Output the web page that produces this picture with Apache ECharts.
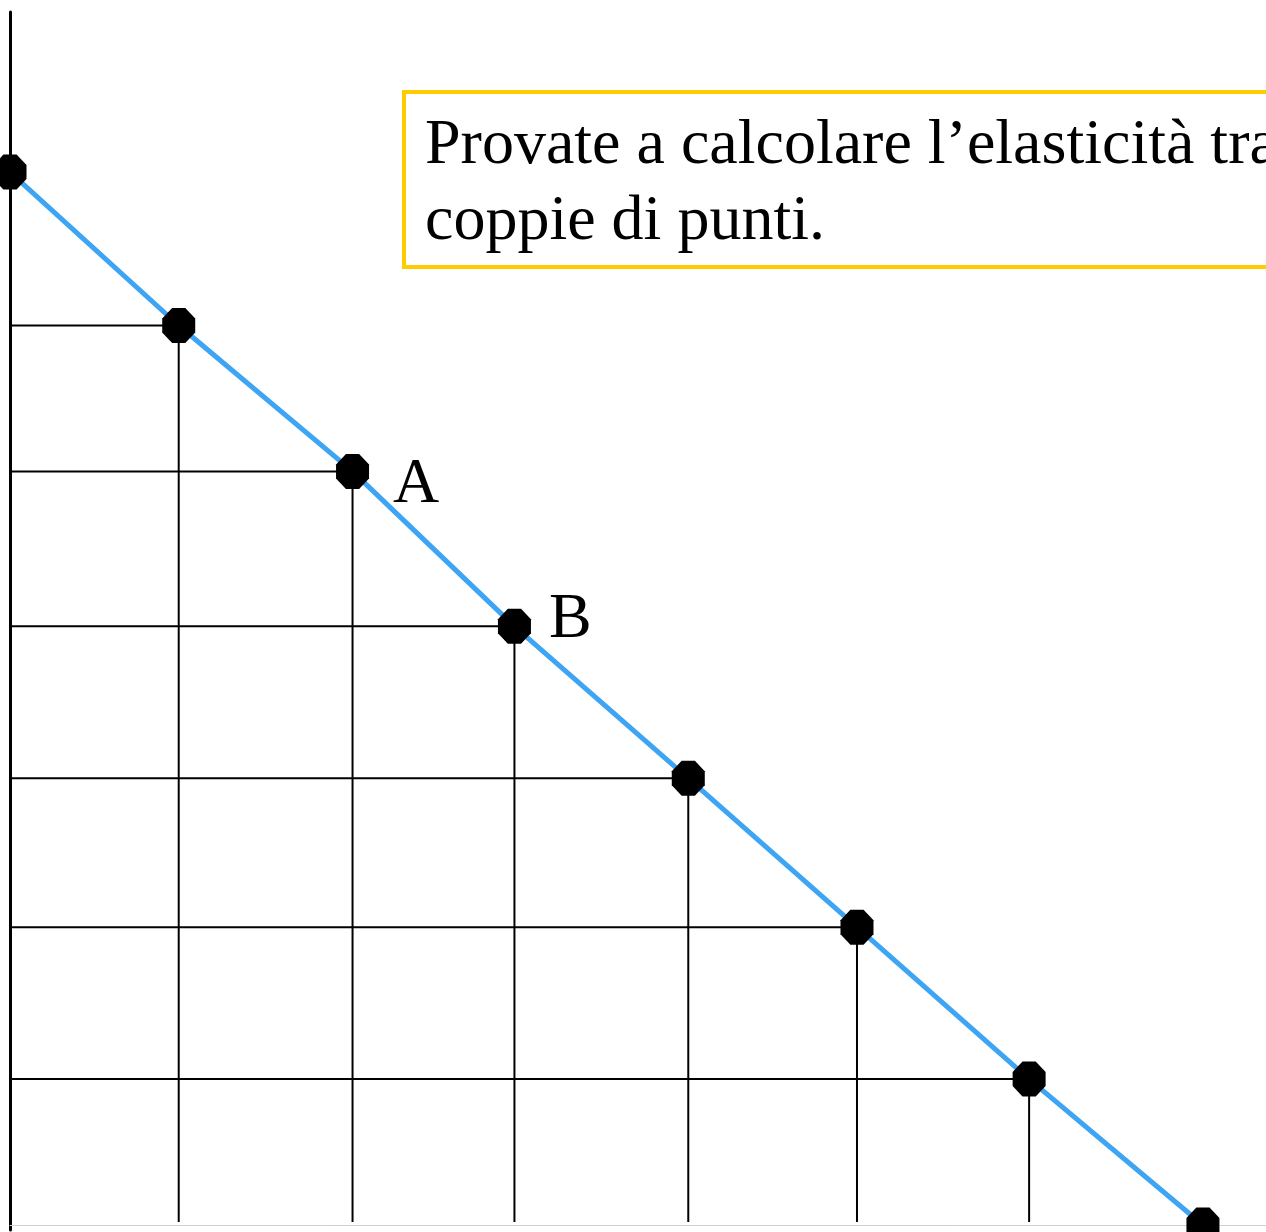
<!DOCTYPE html>
<html>
<head>
<meta charset="utf-8">
<script src="https://cdn.jsdelivr.net/npm/echarts@6/dist/echarts.min.js"></script>
<style>
  html, body { margin: 0; padding: 0; background: #fff; }
  #chart { width: 1266px; height: 1232px; }
</style>
</head>
<body>
<div id="chart"></div>
<script>
// Demand schedule: quantity and price of each marked point
const quantity = [0, 0.99, 2.01, 2.96, 3.98, 4.97, 5.98, 7];
const price = [7, 5.98, 5.01, 3.98, 2.97, 1.98, 0.97, 0];
const pointNames = ['', '', 'A', 'B', '', '', '', ''];
const noteLines = ['Provate a calcolare l\u2019elasticità tra', 'coppie di punti.'];

const serif = '"Liberation Serif", "Times New Roman", serif';
const markerPath = 'path://M30,0 L70,0 L100,30 L100,70 L70,100 L30,100 L0,70 L0,30 Z';

// per-label placement next to its point
const labelOffsets = { A: [24, 14], B: [18, -6] };

const series = [];

// guide lines: horizontal from the price axis, vertical down to zero quantity
quantity.forEach((q, i) => {
  const p = price[i];
  if (q > 0 && p > 0) {
    series.push({
      type: 'line', silent: true, symbol: 'none', z: 1,
      lineStyle: { color: '#000', width: 2 },
      data: [[0, p], [q, p]]
    });
    series.push({
      type: 'line', silent: true, symbol: 'none', z: 1,
      lineStyle: { color: '#000', width: 2 },
      data: [[q, p], [q, 0.02]]
    });
  }
});

// demand line with its points
series.push({
  type: 'line', z: 5,
  symbol: markerPath,
  symbolSize: [33, 35],
  itemStyle: { color: '#000' },
  lineStyle: { color: '#3DA5F4', width: 5 },
  data: quantity.map((q, i) => {
    const name = pointNames[i];
    const item = { value: [q, price[i]] };
    if (name) {
      item.label = {
        show: true, position: 'right', distance: 0,
        offset: labelOffsets[name],
        formatter: name,
        fontFamily: serif, fontSize: 64, color: '#000'
      };
    }
    return item;
  })
});

const chart = echarts.init(document.getElementById('chart'), null, { renderer: 'canvas' });
chart.setOption({
  backgroundColor: '#fff',
  animation: false,
  grid: { left: 10, right: 0, top: 12, bottom: 2, containLabel: false },
  xAxis: {
    type: 'value', min: 0, max: 7.37,
    axisLine: { show: true, lineStyle: { color: '#d0d0d0', width: 1 } },
    axisTick: { show: false }, axisLabel: { show: false }, splitLine: { show: false }
  },
  yAxis: {
    type: 'value', min: -0.033, max: 8.064,
    axisLine: { show: true, onZero: false, lineStyle: { color: '#000', width: 3 } },
    axisTick: { show: false }, axisLabel: { show: false }, splitLine: { show: false }
  },
  series: series,
  graphic: [
    {
      type: 'rect', z: 10,
      shape: { x: 404, y: 92, width: 900, height: 175 },
      style: { fill: '#fff', stroke: '#FFCC00', lineWidth: 4 }
    },
    {
      type: 'text', z: 11, left: 425, top: 108,
      style: {
        text: noteLines.join('\n'),
        font: '64px ' + serif, fill: '#000', lineHeight: 76
      }
    }
  ]
});
</script>
</body>
</html>
